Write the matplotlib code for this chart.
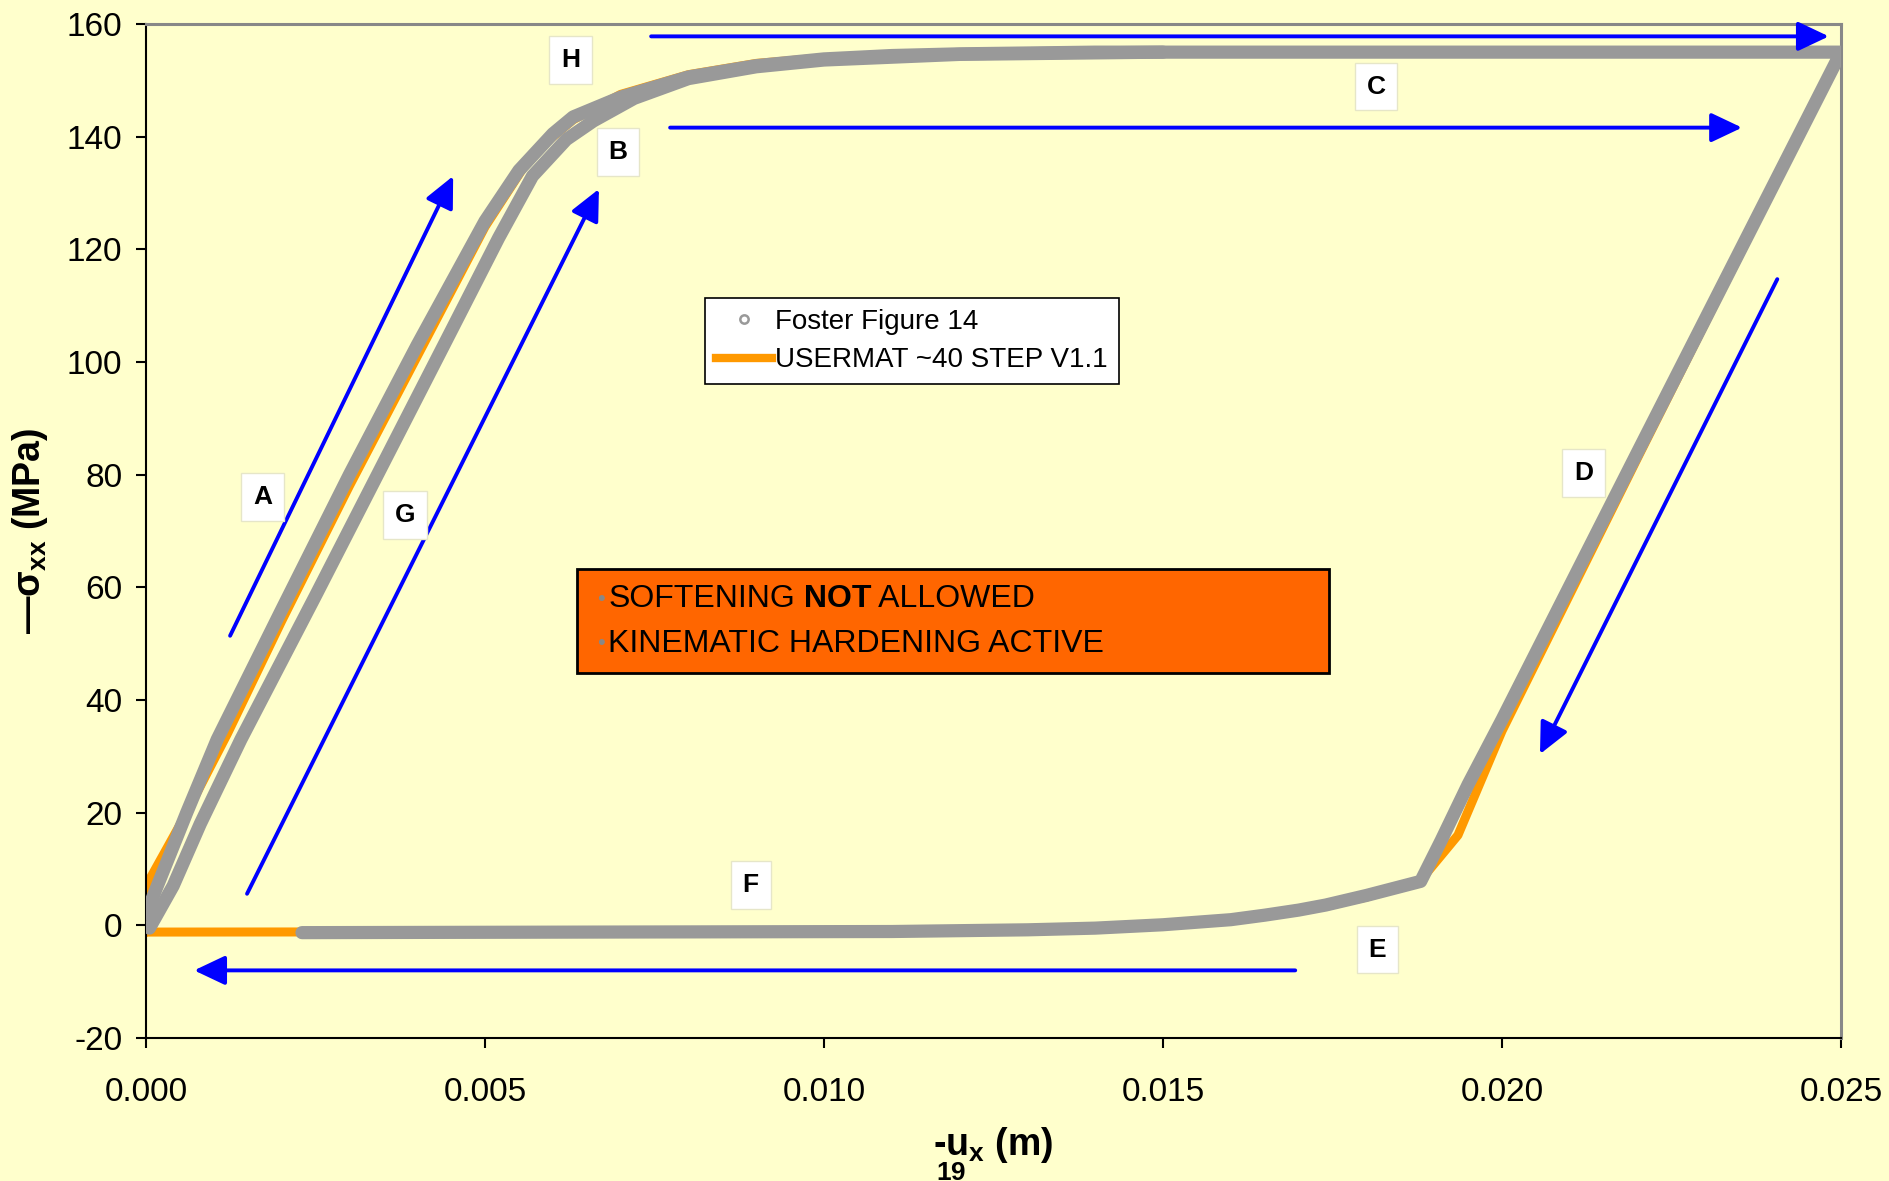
import matplotlib
matplotlib.use("Agg")
import matplotlib.pyplot as plt
from matplotlib.lines import Line2D
from matplotlib.patches import Rectangle

plt.rcParams['font.family'] = ['Liberation Sans', 'DejaVu Sans']
plt.rcParams['mathtext.fontset'] = 'custom'
plt.rcParams['mathtext.rm'] = 'Liberation Sans'
plt.rcParams['mathtext.it'] = 'Liberation Sans:italic'
plt.rcParams['mathtext.bf'] = 'Liberation Sans:bold'
plt.rcParams['axes.unicode_minus'] = False

# Foster Figure 14: loading (A), plateau (C), unloading (D), E-F
foster_load_x = [0.0000, 0.0002, 0.0006, 0.00105, 0.0020, 0.0030, 0.0040, 0.0050, 0.0055,
                 0.0060, 0.0063, 0.0070, 0.0080, 0.0090, 0.0100, 0.0110, 0.0120, 0.0140,
                 0.0250, 0.0220, 0.0200, 0.0195, 0.0191, 0.0188, 0.0180, 0.0174, 0.0170,
                 0.0165, 0.0160, 0.0150, 0.0140, 0.0130, 0.0110, 0.0023]
foster_load_y = [2.0, 8.0, 20.0, 33.0, 56.0, 80.0, 103.0, 125.0, 134.0,
                 140.5, 143.5, 147.0, 150.6, 152.6, 153.8, 154.4, 154.7, 155.0,
                 155.0, 84.0, 36.5, 25.0, 15.0, 7.8, 5.3, 3.6, 2.7,
                 1.8, 1.0, 0.1, -0.5, -0.8, -1.1, -1.3]
# Foster Figure 14: reloading (G) up to H
foster_reload_x = [0.00005, 0.0004, 0.0008, 0.0014, 0.0025, 0.0035, 0.0045, 0.0052, 0.0057,
                   0.0062, 0.0066, 0.0072, 0.0080, 0.0090, 0.0100, 0.0120, 0.0150]
foster_reload_y = [-0.5, 7.0, 18.0, 33.0, 58.5, 82.0, 105.5, 122.0, 133.0,
                   139.5, 142.8, 146.8, 150.3, 152.4, 153.6, 154.6, 155.0]

# USERMAT ~40 STEP V1.1
usermat_x = [0.0000, 0.0000, 0.0006, 0.0012, 0.0020, 0.0030, 0.0040, 0.0050, 0.0057,
             0.0063, 0.0070, 0.0080, 0.0090, 0.0100, 0.0120, 0.0150, 0.0250,
             0.0220, 0.0200, 0.01935, 0.0188, 0.0180, 0.0170, 0.0160, 0.0150,
             0.0140, 0.0130, 0.0120, 0.0000]
usermat_y = [-1.2, 7.0, 20.0, 34.0, 54.0, 78.0, 101.0, 124.0, 137.0,
             143.0, 147.5, 151.0, 153.0, 154.0, 154.6, 154.9, 155.0,
             83.0, 34.5, 16.0, 8.0, 5.0, 2.5, 0.8, -0.1,
             -0.6, -0.9, -1.1, -1.2]

# path letters and direction arrows
letters = ['H', 'B', 'C', 'A', 'G', 'D', 'F', 'E']
letter_x = [0.00626, 0.00696, 0.01814, 0.00172, 0.00382, 0.02120, 0.00892, 0.01816]
letter_y = [153.6, 137.3, 148.9, 76.0, 72.8, 80.3, 7.2, -4.3]
arrow_start = [(0.00745, 157.8), (0.00773, 141.6), (0.00124, 51.4), (0.00149, 5.6),
               (0.02406, 114.7), (0.01695, -8.0)]
arrow_end = [(0.02482, 157.8), (0.02354, 141.6), (0.00453, 133.0), (0.00668, 130.7),
             (0.02056, 30.4), (0.00071, -8.0)]

bg = '#FFFFCC'
gray = '#999999'
orange = '#FF9900'

fig = plt.figure(figsize=(18.89, 11.81), dpi=100, facecolor=bg)
ax = fig.add_axes([0.0773, 0.1211, 0.8973, 0.8586], facecolor=bg)

ax.plot(usermat_x, usermat_y, color=orange, lw=6.5, solid_joinstyle='round',
        solid_capstyle='round', zorder=2)
ax.plot(foster_load_x, foster_load_y, color=gray, lw=9.5, solid_joinstyle='round',
        solid_capstyle='round', zorder=3)
ax.plot(foster_reload_x, foster_reload_y, color=gray, lw=9.5, solid_joinstyle='round',
        solid_capstyle='round', zorder=3)

# arrows
for s, e in zip(arrow_start, arrow_end):
    ax.annotate('', xy=e, xytext=s,
                arrowprops=dict(arrowstyle='-|>,head_length=0.95,head_width=0.45',
                                mutation_scale=20, lw=2.8, color='#0000FF',
                                shrinkA=0, shrinkB=0),
                zorder=4)

# letter boxes
for t, x, y in zip(letters, letter_x, letter_y):
    ax.text(x, y, t, ha='center', va='center', fontsize=19, fontweight='bold',
            bbox=dict(boxstyle='square,pad=0.45', facecolor='white',
                      edgecolor='#E6E6C8', lw=1), zorder=5)

# orange note box
ax.add_patch(Rectangle((0.2543, 0.3600), 0.4436, 0.1026, transform=ax.transAxes,
                       facecolor='#FF6600', edgecolor='black', lw=2, zorder=5))
for yy in [0.4329, 0.3886]:
    ax.text(0.2682, yy, '•', transform=ax.transAxes, color='#888888', fontsize=16,
            ha='center', va='center', zorder=6)
t1 = ax.text(0.2726, 0.4329, 'SOFTENING', transform=ax.transAxes, fontsize=23,
             va='center', zorder=6)
t2 = ax.annotate(' NOT', xy=(1, 0), xycoords=t1, fontsize=23,
                 fontweight='bold', va='bottom', zorder=6)
ax.annotate(' ALLOWED', xy=(1, 0), xycoords=t2, fontsize=23, va='bottom', zorder=6)
ax.text(0.2726, 0.3886, 'KINEMATIC HARDENING ACTIVE', transform=ax.transAxes,
        fontsize=23, va='center', zorder=6)

# axes
ax.set_xlim(0, 0.025)
ax.set_ylim(-20, 160)
ax.set_xticks([0.000, 0.005, 0.010, 0.015, 0.020, 0.025])
ax.set_xticklabels(['0.000', '0.005', '0.010', '0.015', '0.020', '0.025'])
ax.set_yticks(range(-20, 161, 20))
ax.tick_params(axis='both', direction='out', length=7, width=1.5, labelsize=24)
ax.tick_params(axis='x', pad=21)
ax.tick_params(axis='y', pad=10)
for side in ['left', 'bottom']:
    ax.spines[side].set_color('black')
    ax.spines[side].set_linewidth(1.5)
for side in ['top', 'right']:
    ax.spines[side].set_color('#888888')
    ax.spines[side].set_linewidth(2.2)

ax.set_ylabel('—σ$_{\\mathbf{xx}}$ (MPa)', fontsize=27, fontweight='bold')
ax.yaxis.set_label_coords(-0.0566, 0.5)
# "19" sits under the "-u" as in the original label
ax.set_xlabel('$\\mathbf{\\underset{19}{‐u}}$$_{\\mathbf{x}}$ (m)', fontsize=27,
              fontweight='bold', va='top')
ax.xaxis.set_label_coords(0.5, -0.086)

handles = [Line2D([], [], ls='none', marker='o', markersize=6, markerfacecolor='none',
                  markeredgecolor=gray, markeredgewidth=1.8),
           Line2D([], [], color=orange, lw=6)]
leg = ax.legend(handles, ['Foster Figure 14', 'USERMAT ~40 STEP V1.1'],
                loc='upper left', bbox_to_anchor=(0.330, 0.730), borderaxespad=0,
                fontsize=20, frameon=True, fancybox=False, framealpha=1,
                edgecolor='black', facecolor='white', handlelength=2.0,
                handletextpad=0.1, borderpad=0.4, labelspacing=0.45)
leg.get_frame().set_linewidth(1.2)
leg.set_zorder(6)

fig.savefig('out.png', dpi=100, facecolor=bg)
